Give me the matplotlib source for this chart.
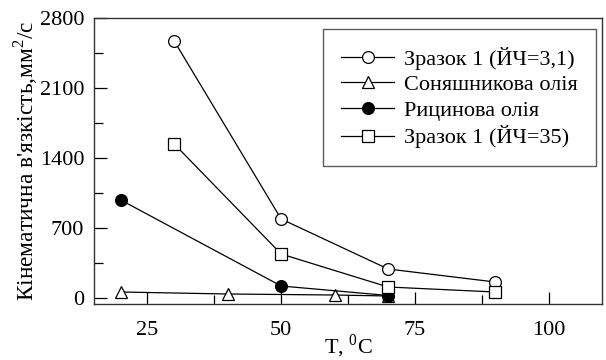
import matplotlib
matplotlib.use("Agg")
import matplotlib.pyplot as plt
from matplotlib.ticker import MultipleLocator

plt.rcParams['font.family'] = ['Liberation Serif', 'DejaVu Serif']
plt.rcParams['mathtext.fontset'] = 'custom'
plt.rcParams['mathtext.rm'] = 'Liberation Serif'

x_s1 = [30, 50, 70, 90]
y_s1 = [2570, 790, 290, 160]
x_sun = [20, 40, 60, 70]
y_sun = [60, 40, 30, 20]
x_ric = [20, 50, 70]
y_ric = [980, 120, 25]
x_s35 = [30, 50, 70, 90]
y_s35 = [1540, 440, 110, 60]

labels = ["Зразок 1 (ЙЧ=3,1)", "Соняшникова олія", "Рицинова олія", "Зразок 1 (ЙЧ=35)"]

fig = plt.figure(figsize=(6.06, 3.6), dpi=100)
ax = fig.add_axes([94/606, 1-304/360, (602-94)/606, (304-18)/360])

kw = dict(color='black', lw=0.9, markersize=8.5, markeredgewidth=0.9, markeredgecolor='black')
ax.plot(x_s1, y_s1, marker='o', markerfacecolor='white', label=labels[0], **kw)
ax.plot(x_sun, y_sun, marker='^', markerfacecolor='white', label=labels[1], **kw)
ax.plot(x_ric, y_ric, marker='o', markerfacecolor='black', label=labels[2], **kw)
ax.plot(x_s35, y_s35, marker='s', markerfacecolor='white', label=labels[3], **kw)

ax.set_xlim(15, 110)
ax.set_ylim(-60, 2800)
ax.xaxis.set_major_locator(MultipleLocator(25))
ax.xaxis.set_minor_locator(MultipleLocator(12.5))
ax.yaxis.set_major_locator(MultipleLocator(700))
ax.yaxis.set_minor_locator(MultipleLocator(350))
ax.tick_params(which='major', direction='in', length=9, width=0.9, labelsize=16)
ax.tick_params(axis='x', which='major', pad=12)
ax.tick_params(axis='y', which='major', pad=7)
ax.tick_params(which='minor', direction='in', length=6.5, width=0.9)
for s in ax.spines.values():
    s.set_linewidth(1.0)
    s.set_color('#333333')

ax.set_xlabel("T, $^0$C", fontsize=16, labelpad=-5)
ax.set_ylabel("Кінематична в'язкість,мм$^2$/с", fontsize=16.8, labelpad=0)

leg = ax.legend(loc='upper right', bbox_to_anchor=(0.988, 0.962), borderaxespad=0,
                fontsize=16, frameon=True,
                fancybox=False, edgecolor='#333333', handlelength=2.4, borderpad=0.8,
                labelspacing=0.22, handletextpad=0.45)
leg.get_frame().set_linewidth(1.0)

fig.savefig("out.png", dpi=100)
